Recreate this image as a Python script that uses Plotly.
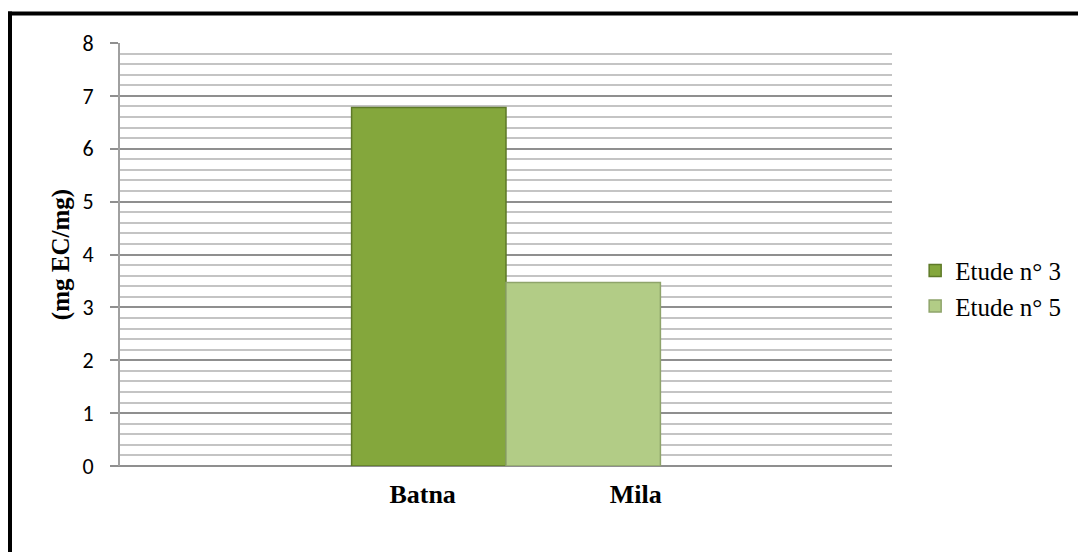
import plotly.graph_objects as go

categories = ["Batna", "Mila"]
series_names = ["Etude n° 3", "Etude n° 5"]
values = [6.78, 3.47]
fill_colors = ["#84a73c", "#b2cc86"]
line_colors = ["#5e7a28", "#8fa46b"]

y_ticks = [0, 1, 2, 3, 4, 5, 6, 7, 8]

# label positions (in bar units) as they sit in the reference
label_pos = [-0.04, 1.34]

fig = go.Figure()
for i, (cat, name, val) in enumerate(zip(categories, series_names, values)):
    fig.add_trace(go.Bar(
        x=[i], y=[val], name=name, width=1.0,
        legendgroup=name,
        marker=dict(color=fill_colors[i], line=dict(color=line_colors[i], width=1.5)),
    ))
# invisible helper trace on the label axis
fig.add_trace(go.Scatter(x=label_pos, y=[0, 0], xaxis="x2", mode="markers",
                         marker=dict(opacity=0), showlegend=False, hoverinfo="skip"))

fig.update_layout(
    width=1078, height=552,
    margin=dict(l=120, r=186, t=43, b=86, autoexpand=False),
    paper_bgcolor="white", plot_bgcolor="white",
    barmode="overlay",
    showlegend=True,
    legend=dict(x=1.03, y=0.42, xanchor="left", yanchor="middle",
                font=dict(family="Liberation Serif", size=25, color="black"),
                tracegroupgap=4, traceorder="normal", bgcolor="rgba(0,0,0,0)",
                itemwidth=30),
    xaxis=dict(range=[-2, 3], showgrid=False, zeroline=False,
               showline=False, ticks="", showticklabels=False),
    xaxis2=dict(range=[-2, 3], overlaying="x", side="bottom", showgrid=False, zeroline=False,
                showline=False, ticks="", tickvals=label_pos, ticktext=categories,
                ticklabelstandoff=10,
                tickfont=dict(family="Liberation Serif", size=26, color="black", weight="bold")),
    yaxis=dict(range=[0, 8], tickvals=y_ticks, showgrid=True, gridcolor="#8f8f8f", gridwidth=2,
               zeroline=False, showline=True, linecolor="#a0a0a0", linewidth=2,
               ticks="outside", ticklen=8, tickcolor="#8f8f8f", tickwidth=2,
               ticklabelstandoff=12,
               tickfont=dict(family="Carlito, Open Sans, sans-serif", size=22, color="black"),
               minor=dict(dtick=0.2, showgrid=True, gridcolor="#c4c4c4", gridwidth=2, ticks=""),
               title=dict(text="(mg EC/mg)", standoff=6,
                          font=dict(family="Liberation Serif", size=25, color="black", weight="bold"))),
)

# frame lines (top and left), like the cropped chart border
px_w, px_h = 772, 423
def px_x(p):
    return (p - 120) / px_w
def px_y(p):
    return (466 - p) / px_h

fig.add_shape(type="line", xref="paper", yref="paper",
              x0=px_x(8), x1=px_x(1100), y0=px_y(13.5), y1=px_y(13.5),
              line=dict(color="black", width=4), layer="above")
fig.add_shape(type="line", xref="paper", yref="paper",
              x0=px_x(10), x1=px_x(10), y0=px_y(11.5), y1=px_y(560),
              line=dict(color="black", width=4), layer="above")
# bottom axis line incl. tick stub
fig.add_shape(type="line", xref="paper", yref="paper",
              x0=px_x(112), x1=1, y0=0, y1=0,
              line=dict(color="#8f8f8f", width=2), layer="below")

fig.write_html("out.html")
